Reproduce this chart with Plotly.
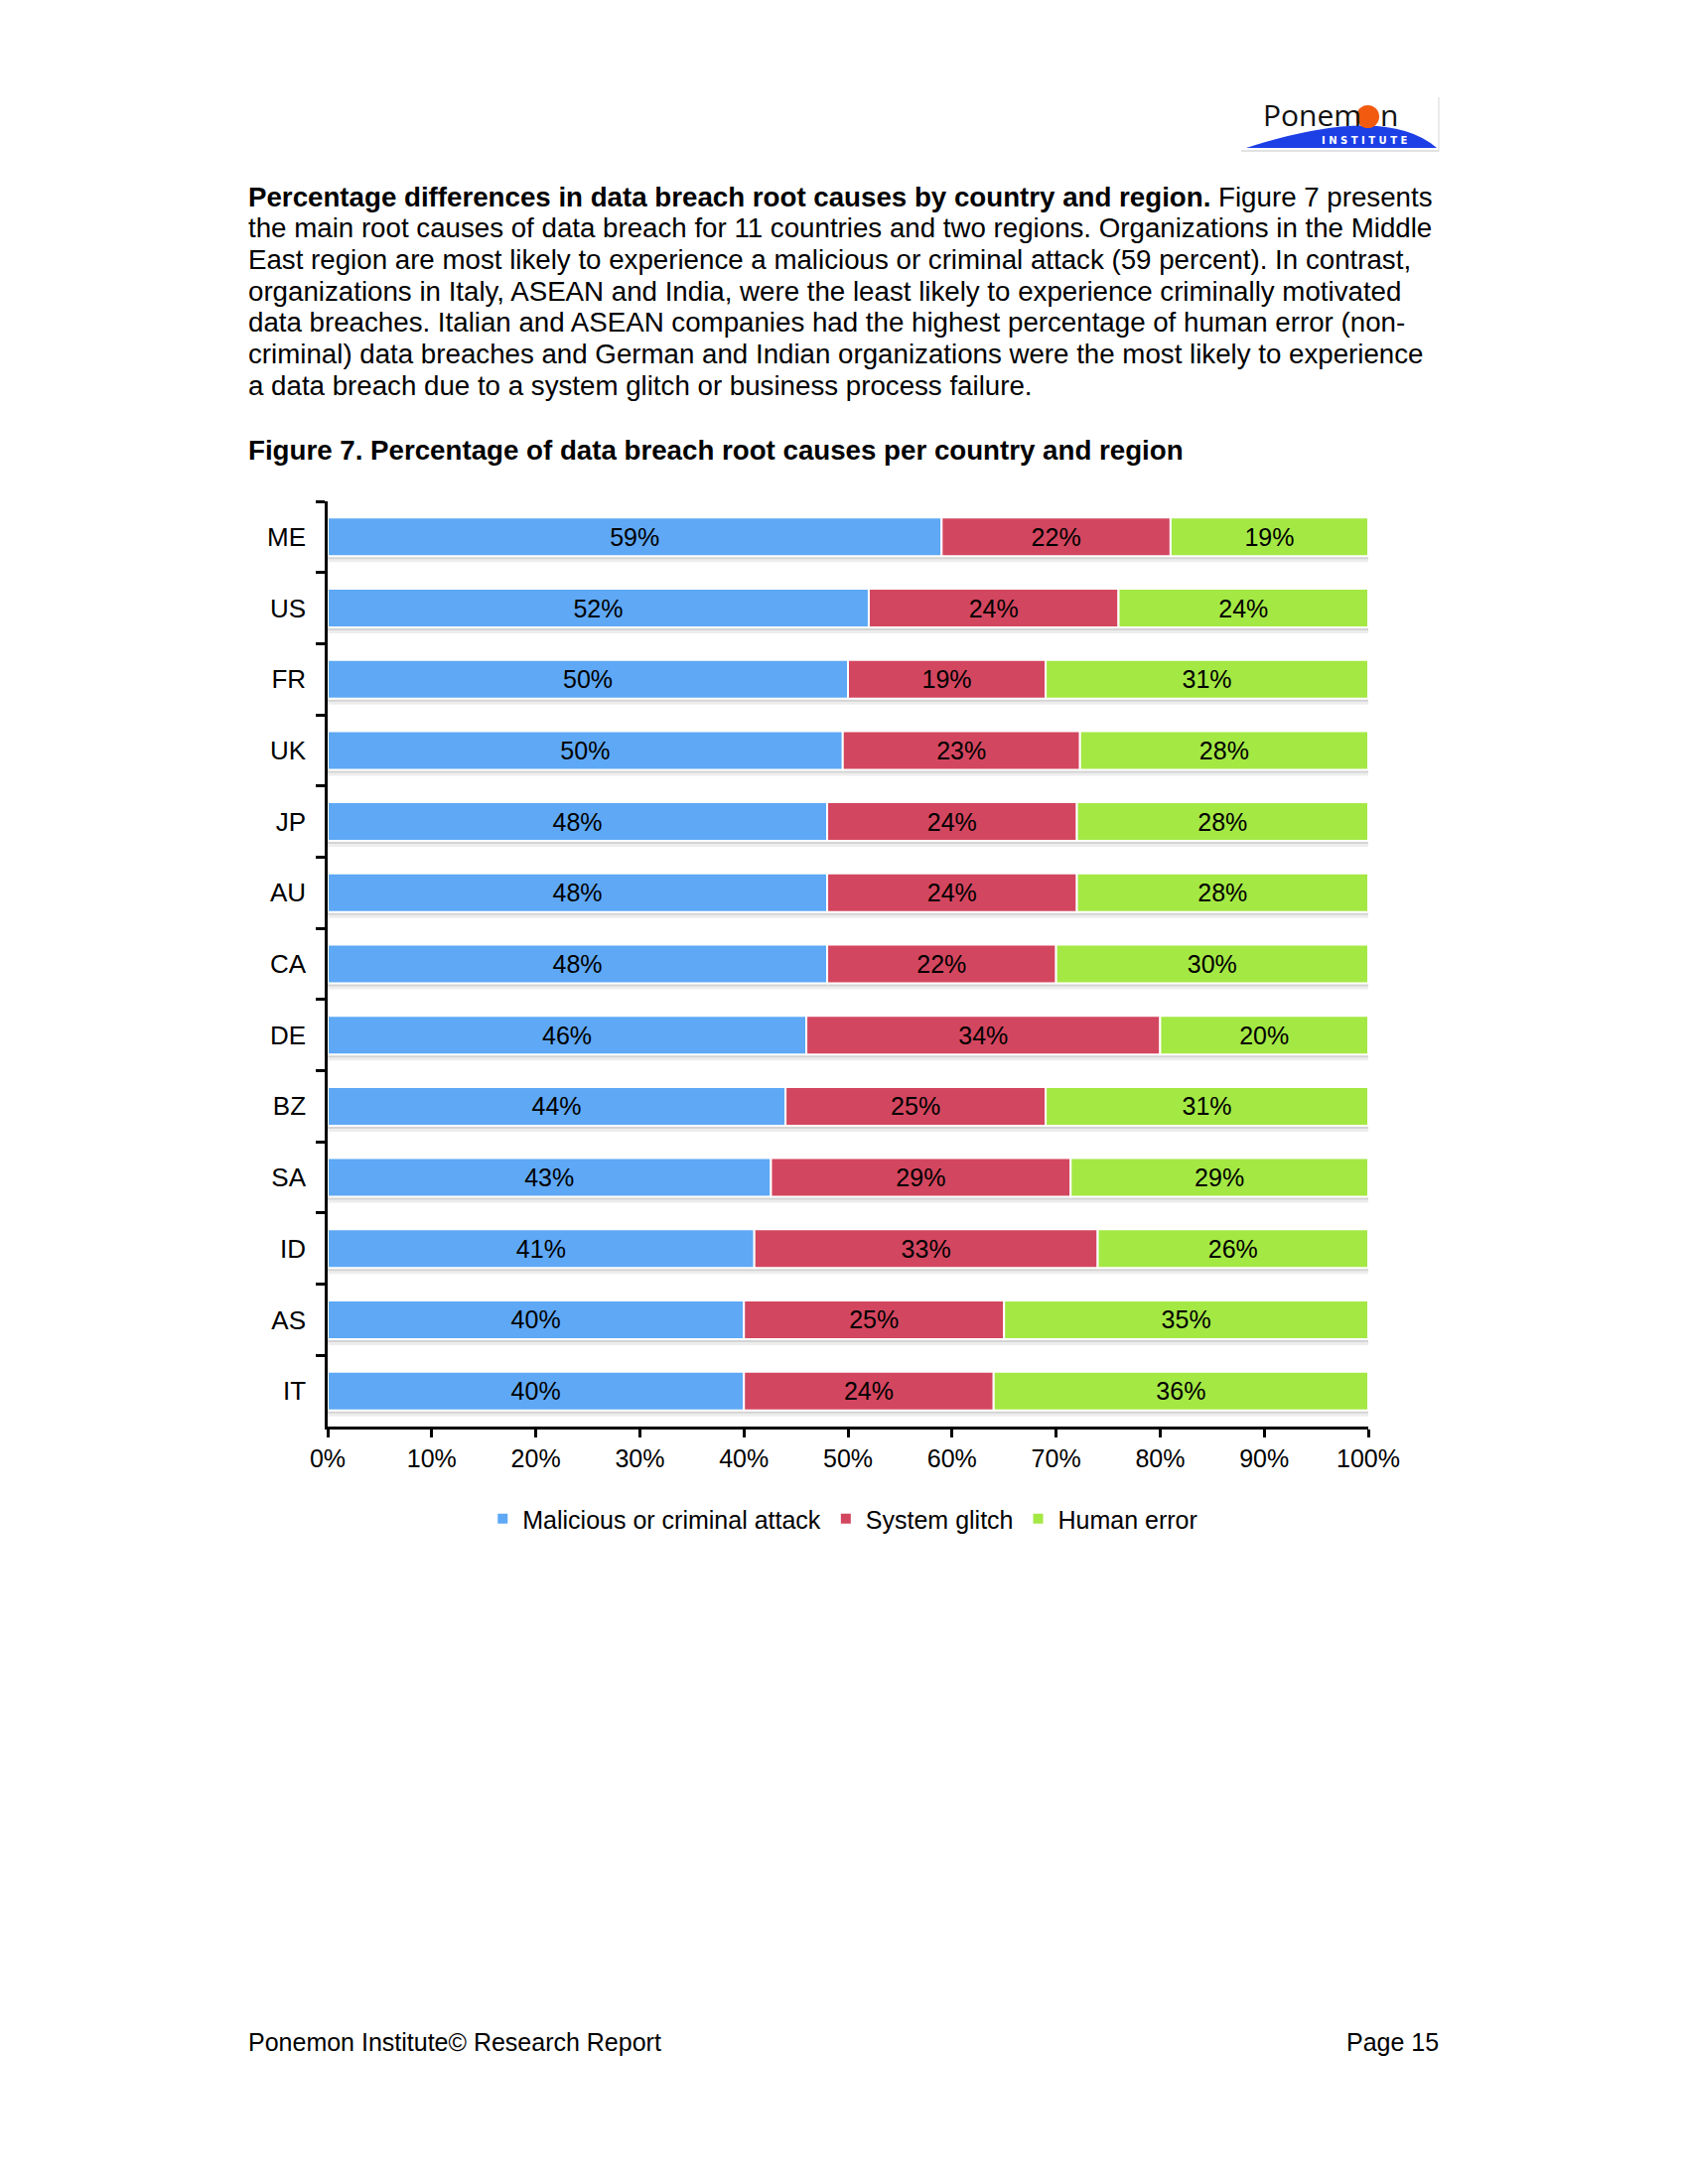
import plotly.graph_objects as go

# ---------------- data ----------------
categories = ["ME", "US", "FR", "UK", "JP", "AU", "CA", "DE", "BZ", "SA", "ID", "AS", "IT"]
malicious = [59, 52, 50, 49.5, 48, 48, 48, 46, 44, 42.6, 41, 40, 40]
glitch = [22, 24, 19, 22.8, 24, 24, 22, 34, 25, 28.8, 33, 25, 24]
human = [19, 24, 31, 27.7, 28, 28, 30, 20, 31, 28.6, 26, 35, 36]
series_names = ["Malicious or criminal attack", "System glitch", "Human error"]
series_colors = ["#5EA8F5", "#D3465F", "#A4E844"]
x_tickvals = [0, 10, 20, 30, 40, 50, 60, 70, 80, 90, 100]
x_ticktext = ["0%", "10%", "20%", "30%", "40%", "50%", "60%", "70%", "80%", "90%", "100%"]

paragraph_lines = [
    "<b>Percentage differences in data breach root causes by country and region.</b> Figure 7 presents",
    "the main root causes of data breach for 11 countries and two regions. Organizations in the Middle",
    "East region are most likely to experience a malicious or criminal attack (59 percent). In contrast,",
    "organizations in Italy, ASEAN and India, were the least likely to experience criminally motivated",
    "data breaches. Italian and ASEAN companies had the highest percentage of human error (non-",
    "criminal) data breaches and German and Indian organizations were the most likely to experience",
    "a data breach due to a system glitch or business process failure.",
]
figure_title = "<b>Figure 7. Percentage of data breach root causes per country and region</b>"
footer_left = "Ponemon Institute\u00a9 Research Report"
footer_right = "Page 15"

# ---------------- layout geometry (pixels) ----------------
W, H = 1700, 2200
L, R, T, B = 330, 1378, 505, 1437
FONT = "Liberation Sans, Arial, sans-serif"


def px(x):
    return (x - L) / (R - L)


def py(y):
    return (B - y) / (B - T)


band_px = (B - T) / len(categories)
bar_w = 39 / band_px

series = [malicious, glitch, human]
totals = [a + b + c for a, b, c in zip(malicious, glitch, human)]

fig = go.Figure()

# soft shadow under each bar
for d_px, alpha in [(6, 0.07), (3, 0.10)]:
    fig.add_trace(go.Bar(
        y=categories, x=totals, base=[0] * len(categories), orientation="h",
        width=bar_w, offset=-bar_w / 2 + d_px / band_px,
        marker=dict(color=f"rgba(0,0,0,{alpha})", line=dict(width=0)),
        showlegend=False, hoverinfo="skip",
    ))

bases = [0] * len(categories)
for name, vals, col in zip(series_names, series, series_colors):
    fig.add_trace(go.Bar(
        y=categories, x=vals, base=list(bases), orientation="h",
        name=name, width=bar_w, offset=-bar_w / 2,
        marker=dict(color=col, line=dict(color="white", width=2)),
        texttemplate="%{x:.0f}%", textposition="inside",
        insidetextanchor="middle", textangle=0, constraintext="none",
        insidetextfont=dict(family=FONT, size=25, color="black"),
        hovertemplate="%{y}: %{x}%<extra>" + name + "</extra>",
    ))
    bases = [b + v for b, v in zip(bases, vals)]

annotations = []
line_y0, line_dy = 198, 31.7
for i, txt in enumerate(paragraph_lines):
    annotations.append(dict(
        text=txt, x=px(248), y=py(line_y0 + i * line_dy), xref="paper", yref="paper",
        xanchor="left", yanchor="middle", showarrow=False,
        font=dict(family=FONT, size=27.7, color="black"),
    ))
annotations.append(dict(
    text=figure_title, x=px(248), y=py(453), xref="paper", yref="paper",
    xanchor="left", yanchor="middle", showarrow=False,
    font=dict(family=FONT, size=27.7, color="black"),
))
annotations.append(dict(
    text=footer_left, x=px(248), y=py(2057), xref="paper", yref="paper",
    xanchor="left", yanchor="middle", showarrow=False,
    font=dict(family=FONT, size=25, color="black"),
))
annotations.append(dict(
    text=footer_right, x=px(1451), y=py(2057), xref="paper", yref="paper",
    xanchor="right", yanchor="middle", showarrow=False,
    font=dict(family=FONT, size=25, color="black"),
))

# logo
annotations.append(dict(
    text="Ponem", x=px(1270), y=py(116), xref="paper", yref="paper",
    xanchor="left", yanchor="middle", showarrow=False,
    font=dict(family="Open Sans", size=30, color="#111111"),
))
annotations.append(dict(
    text="n", x=px(1388), y=py(116), xref="paper", yref="paper",
    xanchor="left", yanchor="middle", showarrow=False,
    font=dict(family="Open Sans", size=30, color="#111111"),
))
annotations.append(dict(
    text="<b>I N S T I T U T E</b>", x=px(1374), y=py(141), xref="paper", yref="paper",
    xanchor="center", yanchor="middle", showarrow=False,
    font=dict(family="DejaVu Sans", size=10, color="white"),
))

shapes = [
    dict(type="path", xref="paper", yref="paper",
         path=(f"M {px(1255)},{py(149)} Q {px(1395)},{py(104)} {px(1447)},{py(149)} Z"),
         fillcolor="#1c3fe6", line=dict(width=0), layer="below"),
    dict(type="circle", xref="paper", yref="paper",
         x0=px(1366), x1=px(1389), y0=py(129), y1=py(106),
         fillcolor="#F25A0F", line=dict(width=0)),
    dict(type="line", xref="paper", yref="paper",
         x0=px(1250), x1=px(1449), y0=py(152), y1=py(152),
         line=dict(color="#d8d8d8", width=1.5)),
    dict(type="line", xref="paper", yref="paper",
         x0=px(1449), x1=px(1449), y0=py(98), y1=py(152),
         line=dict(color="#e4e4e4", width=1.5)),
]

fig.update_layout(
    width=W, height=H, autosize=False,
    margin=dict(l=L, r=W - R, t=T, b=H - B, pad=0),
    paper_bgcolor="white", plot_bgcolor="white",
    barmode="overlay",
    font=dict(family=FONT, size=24, color="black"),
    xaxis=dict(
        range=[0, 100], tickmode="array", tickvals=x_tickvals, ticktext=x_ticktext,
        showgrid=False, zeroline=False, showline=True, linecolor="black", linewidth=2.5,
        ticks="outside", ticklen=8, tickwidth=2.5, tickcolor="black",
        tickfont=dict(family=FONT, size=25, color="black"), fixedrange=True,
    ),
    yaxis=dict(
        type="category", categoryorder="array", categoryarray=categories,
        autorange="reversed",
        showgrid=False, zeroline=False, showline=True, linecolor="black", linewidth=2.5,
        ticks="outside", tickson="boundaries", ticklen=9, tickwidth=2.5, tickcolor="black",
        ticklabelstandoff=14,
        tickfont=dict(family=FONT, size=26, color="black"), fixedrange=True,
    ),
    legend=dict(
        orientation="h", x=0.495, xanchor="center", y=py(1530), yanchor="middle",
        font=dict(family=FONT, size=25, color="black"), itemwidth=30,
        traceorder="normal", bgcolor="rgba(0,0,0,0)",
    ),
    annotations=annotations,
    shapes=shapes,
    showlegend=True,
)

fig.write_html("out.html", config={"displayModeBar": False},
               post_script="document.body.style.margin='0';")
